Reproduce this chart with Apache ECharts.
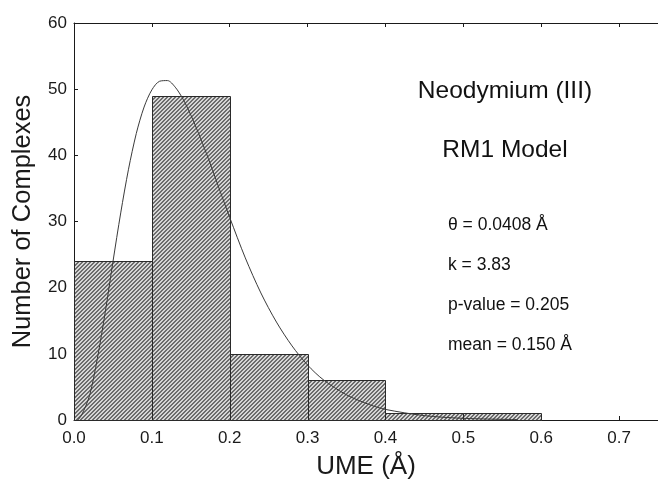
<!DOCTYPE html>
<html style="height: 100%">

<head>
    <meta charset="utf-8">
</head>

<body style="height: 100%; margin: 0; background: #fff">
    <div id="container" style="width: 658px; height: 485px"></div>
    <script type="text/javascript" src="https://cdn.jsdelivr.net/npm/echarts@6/dist/echarts.min.js"></script>
    <script type="text/javascript">
        // histogram bins (UME, Å) and counts
        var binStart = [0.0, 0.1, 0.2, 0.3, 0.4, 0.5];
        var binEnd = [0.1, 0.2, 0.3, 0.4, 0.5, 0.6];
        var counts = [24, 49, 10, 6, 1, 1];

        // fitted gamma curve
        var curveX = [0.005, 0.01, 0.02, 0.03, 0.04, 0.05, 0.06, 0.07, 0.08, 0.09, 0.10, 0.11, 0.12, 0.13, 0.14,
            0.15, 0.16, 0.17, 0.18, 0.19, 0.20, 0.22, 0.24, 0.26, 0.28, 0.30, 0.32, 0.35, 0.38, 0.40, 0.45, 0.50, 0.57];
        var curveY = [0, 0.8, 3.7, 9.3, 16.2, 23.9, 31.3, 37.9, 43.3, 47.3, 49.9, 51.2, 51.3, 50.3, 48.5,
            46.1, 43.3, 40.3, 37.1, 33.8, 30.6, 24.5, 19.2, 14.8, 11.2, 8.3, 6.1, 3.8, 2.3, 1.6, 0.66, 0.25, 0.06];

        var labels = ['Neodymium (III)', 'RM1 Model'];
        var stats = ['θ = 0.0408 Å', 'k = 3.83', 'p-value = 0.205', 'mean = 0.150 Å'];

        var font = 'Arial, "Liberation Sans", sans-serif';

        // diagonal hatch pattern for the bars
        var hatch = document.createElement('canvas');
        hatch.width = 4;
        hatch.height = 4;
        var hctx = hatch.getContext('2d');
        var img = hctx.createImageData(4, 4);
        for (var py = 0; py < 4; py++) {
            for (var px = 0; px < 4; px++) {
                var s = (px + py) % 4;
                var g = (s == 3 || s == 0) ? 0x6c : 0xd6;
                var o = (py * 4 + px) * 4;
                img.data[o] = g; img.data[o + 1] = g; img.data[o + 2] = g; img.data[o + 3] = 255;
            }
        }
        hctx.putImageData(img, 0, 0);

        var histData = counts.map(function (c, i) { return [binStart[i], binEnd[i], c]; });
        var curveData = curveX.map(function (x, i) { return [x, curveY[i]]; });

        var dom = document.getElementById("container");
        var myChart = echarts.init(dom, null, { renderer: 'canvas' });

        var axisCol = '#1a1a1a';
        option = {
            animation: false,
            grid: { left: 74, right: -1, top: 23, bottom: 64 },
            xAxis: [
                {
                    type: 'value', min: 0, max: 0.75, interval: 0.1, position: 'bottom',
                    name: 'UME (Å)', nameLocation: 'middle', nameGap: 34,
                    nameTextStyle: { fontSize: 26, color: axisCol, fontFamily: font },
                    axisLine: { show: true, onZero: false, lineStyle: { color: axisCol, width: 1 } },
                    axisTick: { show: true, inside: true, length: 4, lineStyle: { color: axisCol } },
                    axisLabel: {
                        fontSize: 17, margin: 10, color: axisCol, fontFamily: font, showMaxLabel: false,
                        formatter: function (v) { return v.toFixed(1); }
                    },
                    splitLine: { show: false }
                },
                {
                    type: 'value', min: 0, max: 0.75, interval: 0.1, position: 'top',
                    axisLine: { show: true, onZero: false, lineStyle: { color: axisCol, width: 1 } },
                    axisTick: { show: true, inside: true, length: 4, lineStyle: { color: axisCol } },
                    axisLabel: { show: false },
                    splitLine: { show: false }
                }
            ],
            yAxis: {
                type: 'value', min: 0, max: 60, interval: 10,
                name: 'Number of Complexes', nameLocation: 'middle', nameGap: 38,
                nameTextStyle: { fontSize: 25.5, color: axisCol, fontFamily: font },
                axisLine: { show: true, lineStyle: { color: axisCol, width: 1 } },
                axisTick: { show: true, inside: true, length: 4, lineStyle: { color: axisCol } },
                axisLabel: { fontSize: 17, margin: 7, color: axisCol, fontFamily: font },
                splitLine: { show: false }
            },
            graphic: [
                { type: 'text', x: 505, y: 91, style: { text: labels[0], fontSize: 24.5, fontFamily: font, fill: '#111', textAlign: 'center', textVerticalAlign: 'middle' } },
                { type: 'text', x: 505, y: 150, style: { text: labels[1], fontSize: 24.5, fontFamily: font, fill: '#111', textAlign: 'center', textVerticalAlign: 'middle' } },
                { type: 'text', x: 448, y: 225, style: { text: stats[0], fontSize: 17.5, fontFamily: font, fill: '#111', textVerticalAlign: 'middle' } },
                { type: 'text', x: 448, y: 265, style: { text: stats[1], fontSize: 17.5, fontFamily: font, fill: '#111', textVerticalAlign: 'middle' } },
                { type: 'text', x: 448, y: 305, style: { text: stats[2], fontSize: 17.5, fontFamily: font, fill: '#111', textVerticalAlign: 'middle' } },
                { type: 'text', x: 448, y: 345, style: { text: stats[3], fontSize: 17.5, fontFamily: font, fill: '#111', textVerticalAlign: 'middle' } }
            ],
            series: [
                {
                    name: 'histogram',
                    type: 'custom',
                    xAxisIndex: 0,
                    data: histData,
                    renderItem: function (params, api) {
                        var p0 = api.coord([api.value(0), api.value(2)]);
                        var p1 = api.coord([api.value(1), 0]);
                        var x0 = Math.round(p0[0]) + 0.5, x1 = Math.round(p1[0]) + 0.5;
                        var y0 = Math.round(p0[1]) + 0.5, y1 = Math.round(p1[1]) + 0.5;
                        return {
                            type: 'rect',
                            shape: { x: x0, y: y0, width: x1 - x0, height: y1 - y0 },
                            style: { fill: { image: hatch, repeat: 'repeat' }, stroke: '#2a2a2a', lineWidth: 1 }
                        };
                    },
                    z: 2
                },
                {
                    name: 'gamma fit',
                    type: 'line',
                    xAxisIndex: 0,
                    data: curveData,
                    smooth: 0.3,
                    showSymbol: false,
                    lineStyle: { color: '#3a3a3a', width: 1 },
                    z: 3
                }
            ]
        };

        myChart.setOption(option, true);
    </script>
</body>

</html>
